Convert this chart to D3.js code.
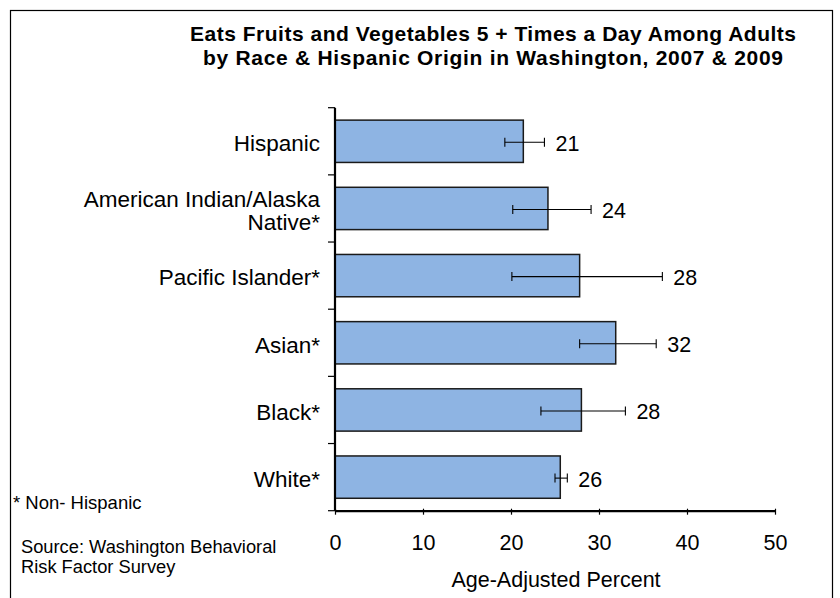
<!DOCTYPE html>
<html>
<head>
<meta charset="utf-8">
<script src="https://cdn.jsdelivr.net/npm/d3@7"></script>
<style>
  html, body { margin: 0; padding: 0; background: #fff; }
  svg text { font-family: "Liberation Sans", Arial, sans-serif; fill: #000; }
</style>
</head>
<body>
<svg id="chart" width="840" height="598"></svg>
<script>
// ---- data ----
const categories = ["Hispanic", "American Indian/Alaska Native*", "Pacific Islander*", "Asian*", "Black*", "White*"];
const categoryLines = [["Hispanic"], ["American Indian/Alaska", "Native*"], ["Pacific Islander*"], ["Asian*"], ["Black*"], ["White*"]];
const values = [21.4, 24.2, 27.8, 31.9, 28.0, 25.6];
const ciLow = [19.3, 20.2, 20.1, 27.8, 23.4, 25.0];
const ciHigh = [23.8, 29.1, 37.2, 36.5, 33.0, 26.4];
const valueLabels = ["21", "24", "28", "32", "28", "26"];
const xTicks = [0, 10, 20, 30, 40, 50];
const titleLines = ["Eats Fruits and Vegetables 5 + Times a Day Among Adults", "by Race & Hispanic Origin in Washington, 2007 & 2009"];
const footnote = "* Non- Hispanic";
const sourceLines = ["Source: Washington Behavioral", "Risk Factor Survey"];
const xTitle = "Age-Adjusted Percent";

// ---- layout ----
const svg = d3.select("#chart");
const plot = { left: 335, right: 775, top: 107.7, bottom: 510.7 };

svg.append("rect")
  .attr("x", 10.5).attr("y", 10.5)
  .attr("width", 822).attr("height", 600)
  .attr("fill", "none").attr("stroke", "#000").attr("stroke-width", 1.2);

const x = d3.scaleLinear().domain([0, 50]).range([plot.left, plot.right]);
const y = d3.scaleBand().domain(categories).range([plot.top, plot.bottom])
  .paddingInner(0.37).paddingOuter(0.185);
const yStep = d3.scaleBand().domain(categories).range([plot.top, plot.bottom]);

// title
const titleWidths = [606, 580];
svg.append("g").selectAll("text").data(titleLines).join("text")
  .attr("x", (d, i) => 493 - titleWidths[i] / 2).attr("y", (d, i) => 40.5 + i * 24.5)
  .attr("font-size", 21).attr("font-weight", "bold")
  .attr("textLength", (d, i) => titleWidths[i]).attr("lengthAdjust", "spacing")
  .text(d => d);

// bars
svg.append("g").selectAll("rect").data(categories).join("rect")
  .attr("x", x(0))
  .attr("y", d => y(d))
  .attr("width", (d, i) => x(values[i]) - x(0))
  .attr("height", y.bandwidth())
  .attr("fill", "#8EB4E3")
  .attr("stroke", "#1a1a1a").attr("stroke-width", 1.5);

// error bars
const eb = svg.append("g").attr("stroke", "#000").attr("stroke-width", 1.1);
categories.forEach((c, i) => {
  const cy = y(c) + y.bandwidth() / 2 + 1;
  eb.append("line").attr("x1", x(ciLow[i])).attr("x2", x(ciHigh[i])).attr("y1", cy).attr("y2", cy);
  eb.append("line").attr("x1", x(ciLow[i])).attr("x2", x(ciLow[i])).attr("y1", cy - 4.5).attr("y2", cy + 4.5);
  eb.append("line").attr("x1", x(ciHigh[i])).attr("x2", x(ciHigh[i])).attr("y1", cy - 4.5).attr("y2", cy + 4.5);
});

// value labels
svg.append("g").selectAll("text").data(categories).join("text")
  .attr("x", (d, i) => Math.max(x(values[i]), x(ciHigh[i])) + 11)
  .attr("y", d => y(d) + y.bandwidth() / 2 + 2)
  .attr("dy", "0.35em")
  .attr("font-size", 21.5)
  .text((d, i) => valueLabels[i]);

// y axis
const yAxis = d3.axisLeft(yStep).tickSize(0).tickFormat("");
const yg = svg.append("g").attr("transform", `translate(${plot.left},0)`).call(yAxis);
yg.select(".domain").attr("stroke", "#000").attr("stroke-width", 2.2).attr("d", `M0,${plot.top}V${plot.bottom}`);
// category boundary ticks
const bounds = categories.map(c => yStep(c)).concat([plot.bottom]);
svg.append("g").selectAll("line").data(bounds).join("line")
  .attr("x1", plot.left - 7).attr("x2", plot.left)
  .attr("y1", d => d).attr("y2", d => d)
  .attr("stroke", "#000").attr("stroke-width", 1.2);

// category labels
const cl = svg.append("g").selectAll("text").data(categories).join("text")
  .attr("text-anchor", "end")
  .attr("font-size", 22.5);
cl.each(function(d, i) {
  const lines = categoryLines[i];
  const cy = yStep(d) + yStep.bandwidth() / 2 + 2;
  const t = d3.select(this);
  lines.forEach((ln, k) => {
    t.append("tspan")
      .attr("x", 320)
      .attr("y", cy + (k - (lines.length - 1) / 2) * 23.5)
      .attr("dy", "0.35em")
      .text(ln);
  });
});

// x axis
const xAxis = d3.axisBottom(x).tickValues(xTicks).tickSize(4).tickPadding(20).tickSizeOuter(0);
const xg = svg.append("g").attr("transform", `translate(0,${plot.bottom})`).call(xAxis);
xg.select(".domain").attr("stroke", "#000").attr("stroke-width", 2.2);
xg.selectAll(".tick line").attr("stroke", "#000").attr("stroke-width", 1.2).attr("y1", -2);
xg.selectAll(".tick text").attr("font-size", 21.5).attr("font-family", "Liberation Sans, Arial, sans-serif").attr("fill", "#000");

svg.append("text")
  .attr("x", (plot.left + plot.right) / 2 + 1).attr("y", 587)
  .attr("text-anchor", "middle").attr("font-size", 21.5)
  .text(xTitle);

// footnotes
svg.append("text").attr("x", 13).attr("y", 509).attr("font-size", 18.5).text(footnote);
svg.append("g").selectAll("text").data(sourceLines).join("text")
  .attr("x", 21).attr("y", (d, i) => 553 + i * 20)
  .attr("font-size", 18.3)
  .text(d => d);
</script>
</body>
</html>
